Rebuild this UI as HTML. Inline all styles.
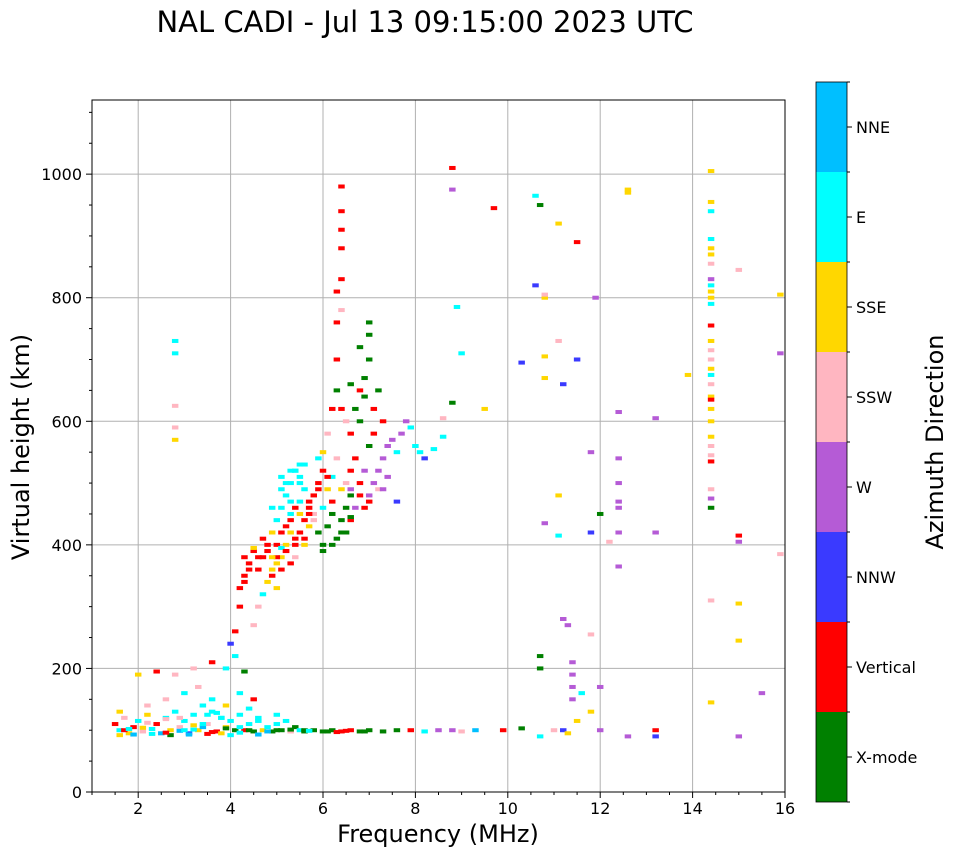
<!DOCTYPE html>
<html><head><meta charset="utf-8"><style>
body{margin:0;background:#fff;width:958px;height:857px;overflow:hidden;font-family:"DejaVu Sans","Liberation Sans",sans-serif}
svg{position:absolute;left:0;top:0}
</style></head><body>
<svg id="chart" width="958" height="857" font-family="DejaVu Sans, Liberation Sans, sans-serif"></svg>
<script>
const modeNames=["X-mode","Vertical","NNW","W","SSW","SSE","E","NNE"];
const modeColors=["#008000","#ff0000","#3a3aff","#b55bd6","#ffb6c1","#ffd700","#00ffff","#00bfff"];
const xTicks=[2,4,6,8,10,12,14,16];
const yTicks=[0,200,400,600,800,1000];

const eLowFreq=[1.5,1.6,1.7,1.8,1.9,2.0,2.1,2.2,2.3,2.4, 2.5,2.6,2.7,2.8,2.9,3.0,3.1,3.2,3.3,3.4, 3.5,3.6,3.7,3.8,3.9,4.0,4.1,4.2,4.3,4.4];
const eLowHeight=[110,100,120,95,105,115,98,125,102,110, 95,120,100,130,105,115,95,125,100,140, 110,130,98,120,105,115,100,125,100,110];
const eLowMode=[1,6,4,5,1,6,4,5,6,1, 4,6,5,6,4,6,2,6,5,6, 4,6,1,6,5,6,0,6,1,6];

const eMidFreq=[4.5,4.6,4.7,4.8,4.9,5.0,5.1,5.2,5.3,5.4, 5.5,5.6,5.8,6.0,6.2,6.4,6.6,6.8,7.0,7.3, 7.6,7.9,8.2,8.5,8.8,9.0,9.3,9.9,10.3,10.7];
const eMidHeight=[98,120,100,105,98,110,100,115,98,105, 100,98,100,98,100,98,100,98,100,98, 100,100,98,100,100,98,100,100,103,90];
const eMidMode=[0,6,5,6,0,6,0,6,4,0, 6,0,0,0,0,1,1,0,0,0, 0,1,6,3,3,4,7,1,0,6];

const eDenseFreq=[1.6,1.9,2.3,2.7,3.1,3.5,4.0,4.6,1.7,2.5, 3.4,3.8,4.4,5.0,5.6,6.1,1.8,2.1,2.6,2.9, 3.2,3.6,3.9,4.2,4.8,5.3,5.7,6.3,6.5,6.9];
const eDenseHeight=[92,93,94,92,93,94,92,93,100,95, 105,95,100,100,100,98,102,104,96,99, 101,97,103,96,98,101,99,97,99,98];
const eDenseMode=[5,7,6,0,7,1,6,7,1,7, 7,5,0,0,0,0,6,5,1,7, 6,1,0,6,7,0,6,1,1,0];

const esFreq=[1.6,2.2,2.6,3.0,3.3,3.6,3.9,4.2,4.5,2.0, 2.4,2.8,3.2,3.6,3.9,4.3,4.1,3.5,4.4,2.9];
const esHeight=[130,140,150,160,170,150,140,160,150,190, 195,190,200,210,200,195,220,125,135,120];
const esMode=[5,4,4,6,4,6,5,6,1,5, 1,4,4,1,6,0,6,6,6,4];

const fLowFreq=[4.0,4.1,4.2,4.2,4.3,4.4,4.5,4.6,4.7,4.8, 4.6,4.5,4.7,4.8,4.9,5.0,5.1,5.2,5.3,4.9, 4.4,4.3,4.9,5.0,5.4,4.6,4.8,5.0,5.2,5.1];
const fLowHeight=[240,260,300,330,350,370,390,360,380,400, 300,270,320,340,360,330,380,400,420,420, 360,340,350,400,410,380,390,370,390,395];
const fLowMode=[2,1,1,1,1,1,1,1,1,1, 4,4,6,5,5,5,5,5,5,5, 1,1,1,1,1,1,1,5,1,6];

const fMidFreq=[5.0,5.1,5.2,5.3,5.4,5.5,5.6,5.5,5.3,5.0, 5.1,5.2,5.3,5.4,5.5,5.6,5.7,5.8,5.9,6.0, 5.4,5.6,5.7,5.8,5.2,5.4,5.6,5.1,5.3,5.5];
const fMidHeight=[440,460,480,500,520,510,530,470,450,380, 360,390,370,400,420,440,460,480,500,520, 380,400,430,450,500,520,490,510,470,530];
const fMidMode=[6,6,6,6,6,6,6,6,6,1, 1,1,1,1,1,1,1,1,1,1, 4,5,5,4,6,6,6,6,6,6];

const fXFreq=[5.9,6.0,6.1,6.2,6.3,6.4,6.5,6.6,6.0,6.1, 6.2,6.3,6.4,6.5,6.6,6.7,6.8,6.9,6.5,6.6, 6.7,6.6,6.9,7.0,7.1,6.0,6.2,6.4,6.6,6.8];
const fXHeight=[420,400,430,450,410,440,460,480,460,490, 510,540,490,500,520,540,500,520,420,440, 460,490,460,560,580,390,400,420,445,480];
const fXMode=[0,0,0,0,0,0,0,0,6,5, 6,4,5,4,1,1,1,3,0,1, 3,3,1,0,1,0,0,0,0,1];

const fWFreq=[7.0,7.1,7.2,7.3,7.4,7.5,7.6,7.7,7.8,7.9, 8.0,8.1,8.2,7.2,7.0,7.4,7.6,8.4,8.6,7.3];
const fWHeight=[480,500,520,540,560,570,550,580,600,590, 560,550,540,490,470,510,470,555,575,490];
const fWMode=[3,3,3,3,3,3,6,3,3,6, 6,6,2,4,1,3,2,6,6,3];

const fHighFreq=[6.8,6.9,7.0,7.0,6.9,6.8,7.1,7.2,7.3,6.6, 6.5,6.4,6.3,6.3,6.3,6.4,6.3,6.4,6.4,6.4, 6.4,6.4,6.2,6.1,6.0,5.9,6.7,6.6,6.8,7.0];
const fHighHeight=[600,640,700,740,670,650,620,650,600,580, 600,620,650,700,760,780,810,830,880,910, 940,980,620,580,550,540,620,660,720,760];
const fHighMode=[0,0,0,0,0,1,1,0,1,1, 4,1,0,1,1,4,1,1,1,1, 1,1,1,4,5,6,0,0,0,0];

const extraFreq=[4.3,4.5,4.7,4.9,5.1,5.3,5.5,5.7,5.9,6.1, 4.9,5.1,5.3,5.5,5.7,5.2,5.4,5.6,5.8,6.2, 3.0,3.4,3.8,4.2,4.6,5.0,2.2,2.6,3.2,3.7];
const extraHeight=[380,395,410,380,420,440,450,470,490,510, 460,490,520,500,450,430,460,410,440,470, 100,110,120,105,115,125,112,118,108,128];
const extraMode=[1,5,1,5,1,1,5,1,1,1, 6,6,6,6,1,1,1,1,4,1, 6,6,6,6,6,6,4,4,5,6];

const scatAFreq=[2.8,2.8,2.8,2.8,2.8,8.6,8.8,8.8,8.8,8.9, 9.0,9.5,9.7,10.3,10.6,10.7,10.6,10.8,10.8,10.8, 10.8,11.1,11.1,11.2,11.1,11.1,11.2,11.3,10.8,11.5, 11.5,11.8,11.8];
const scatAHeight=[730,710,625,570,590,605,630,1010,975,785, 710,620,945,695,965,950,820,800,805,705, 670,920,730,660,480,415,280,270,435,700, 890,550,420];
const scatAMode=[6,6,4,5,4,4,0,1,3,6, 6,5,1,2,6,0,2,5,4,5, 5,5,4,2,5,6,3,3,3,2, 1,3,2];

const scatBFreq=[11.8,11.9,12.0,12.0,12.2,12.4,12.4,12.4,12.4,12.4, 12.4,12.4,12.6,12.6,13.2,13.2,13.9,10.7,10.7,11.4, 11.4,11.4,11.4,11.6,15.0,15.0,15.0,15.0,15.0,15.5, 15.9,15.9,15.9];
const scatBHeight=[255,800,170,450,405,615,540,500,470,460, 420,365,975,970,605,420,675,220,200,210, 190,170,150,160,845,415,405,305,245,160, 805,710,385];
const scatBMode=[4,3,3,0,4,3,3,3,3,3, 3,3,5,5,3,3,5,0,0,3, 3,3,3,6,4,1,3,5,5,3, 5,3,4];

const scatCFreq=[11.0,11.2,11.3,11.5,11.8,12.0,12.6,13.2,13.2,14.4,15.0];
const scatCHeight=[100,100,95,115,130,100,90,90,100,145,90];
const scatCMode=[4,2,5,5,5,3,3,2,1,5,3];

const colFreq=[14.4,14.4,14.4,14.4,14.4,14.4,14.4,14.4,14.4,14.4, 14.4,14.4,14.4,14.4,14.4,14.4,14.4,14.4,14.4,14.4, 14.4,14.4,14.4,14.4,14.4,14.4,14.4,14.4,14.4,14.4, 14.4];
const colHeight=[1005,955,940,895,880,870,855,830,820,810, 800,790,755,730,715,700,685,675,660,640, 635,620,600,575,560,545,535,490,475,460, 310];
const colMode=[5,5,6,6,5,5,4,3,6,5, 5,6,1,5,4,4,5,6,4,5, 1,5,5,5,4,4,1,4,3,0, 4];

const freqs=[].concat(eLowFreq,eMidFreq,eDenseFreq,esFreq,fLowFreq,fMidFreq,fXFreq,fWFreq,fHighFreq,extraFreq,scatAFreq,scatBFreq,scatCFreq,colFreq);
const heights=[].concat(eLowHeight,eMidHeight,eDenseHeight,esHeight,fLowHeight,fMidHeight,fXHeight,fWHeight,fHighHeight,extraHeight,scatAHeight,scatBHeight,scatCHeight,colHeight);
const modes=[].concat(eLowMode,eMidMode,eDenseMode,esMode,fLowMode,fMidMode,fXMode,fWMode,fHighMode,extraMode,scatAMode,scatBMode,scatCMode,colMode);

const NS="http://www.w3.org/2000/svg";
const svg=document.getElementById('chart');
const L=92,R=785,T=100,B=792;
const xMin=1,xMax=16,yMin=0,yMax=1120;
function xs(v){return L+(v-xMin)/(xMax-xMin)*(R-L);}
function ys(v){return B-(v-yMin)/(yMax-yMin)*(B-T);}
function mk(tag,attrs,parent){const e=document.createElementNS(NS,tag);for(const k in attrs)e.setAttribute(k,attrs[k]);(parent||svg).appendChild(e);return e;}

const title=mk('text',{x:425,y:32,'text-anchor':'middle','font-size':29,fill:'#000'});
title.textContent='NAL CADI - Jul 13 09:15:00 2023 UTC';



const grid=mk('g',{});


xTicks.forEach(t=>{if(t<xMax)mk('line',{x1:xs(t),x2:xs(t),y1:T,y2:B,stroke:'#b0b0b0','stroke-width':1},grid);});
yTicks.forEach(t=>{if(t>yMin)mk('line',{x1:L,x2:R,y1:ys(t),y2:ys(t),stroke:'#b0b0b0','stroke-width':1},grid);});

const marks=mk('g',{});


const n=Math.min(freqs.length,heights.length,modes.length);
for(let i=0;i<n;i++){
  const m=modes[i]|0;
  const w=xs(freqs[i]+0.14)-xs(freqs[i]);
  const r=mk('rect',{x:xs(freqs[i])-w/2,y:ys(heights[i])-2,width:w,height:4,fill:modeColors[m]},marks);
  
  
}

const frame=mk('rect',{x:L,y:T,width:R-L,height:B-T,fill:'none',stroke:'#000','stroke-width':1});



const xax=mk('g',{});


for(let v=1;v<=16;v+=0.5){const big=xTicks.includes(v);mk('line',{x1:xs(v),x2:xs(v),y1:B,y2:B+(big?6:3),stroke:'#000'},xax);}
xTicks.forEach(t=>{const tx=mk('text',{x:xs(t),y:B+22,'text-anchor':'middle','font-size':16},xax);tx.textContent=t;});
const xl=mk('text',{x:438,y:842,'text-anchor':'middle','font-size':24});
xl.textContent='Frequency (MHz)';



const yax=mk('g',{});


for(let v=0;v<=1100;v+=50){const big=yTicks.includes(v);mk('line',{x1:L,x2:L-(big?6:3),y1:ys(v),y2:ys(v),stroke:'#000'},yax);}
yTicks.forEach(t=>{const tx=mk('text',{x:L-10,y:ys(t)+6,'text-anchor':'end','font-size':16},yax);tx.textContent=t;});
const yl=mk('text',{x:29,y:447,'text-anchor':'middle','font-size':24,transform:'rotate(-90 29 447)'});
yl.textContent='Virtual height (km)';



const cb=mk('g',{});


const cbT=82,cbB=802,cbL=816,cbW=31,seg=(cbB-cbT)/modeNames.length;
modeNames.forEach((nm,i)=>{
  const y=cbB-(i+1)*seg;
  const r=mk('rect',{x:cbL,y:y,width:cbW,height:seg,fill:modeColors[i]},cb);
  
  
  mk('line',{x1:cbL+cbW,x2:cbL+cbW+5,y1:y+seg/2,y2:y+seg/2,stroke:'#000'},cb);
  const t=mk('text',{x:cbL+cbW+9,y:y+seg/2+6,'font-size':16},cb);t.textContent=nm;
});
for(let i=0;i<=modeNames.length;i++){mk('line',{x1:cbL+cbW,x2:cbL+cbW+3,y1:cbT+i*seg,y2:cbT+i*seg,stroke:'#000'},cb);}
mk('rect',{x:cbL,y:cbT,width:cbW,height:cbB-cbT,fill:'none',stroke:'#000','stroke-width':0.8},cb);
const cl=mk('text',{x:943,y:442,'text-anchor':'middle','font-size':24,transform:'rotate(-90 943 442)'});
cl.textContent='Azimuth Direction';


</script>
</body></html>
